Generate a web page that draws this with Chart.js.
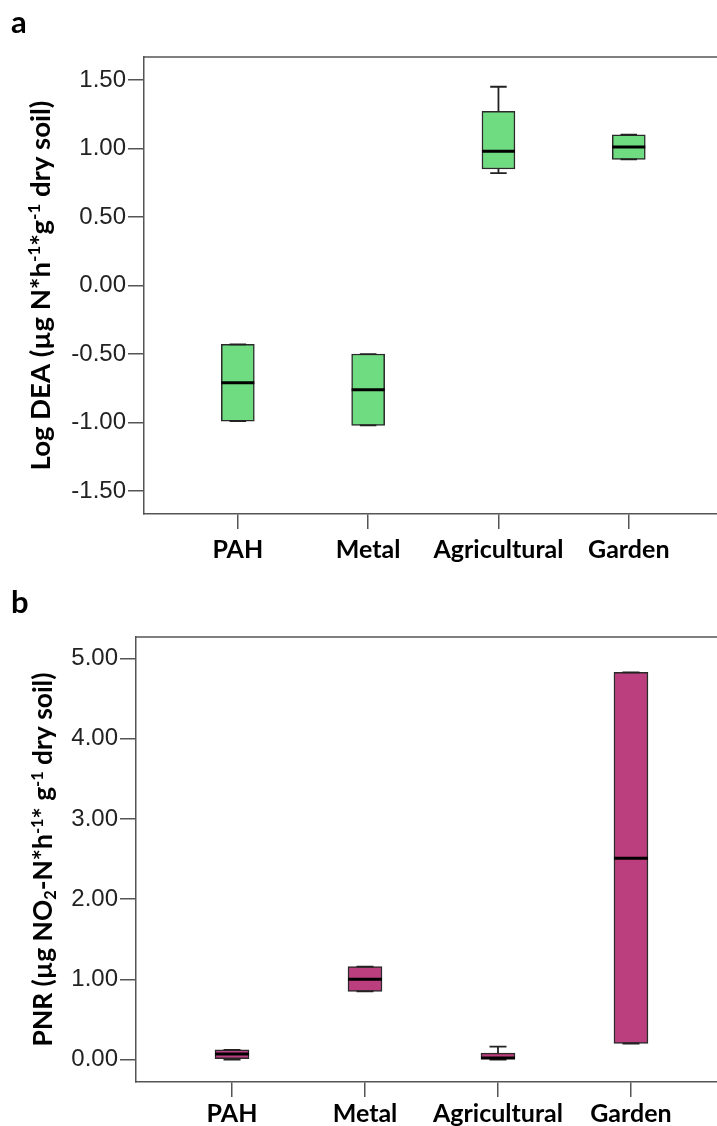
<!DOCTYPE html>
<html>
<head>
<meta charset="utf-8">
<script src="https://cdn.jsdelivr.net/npm/chart.js@4.4.1/dist/chart.umd.min.js"></script>
<style>
  html, body { margin: 0; padding: 0; background: #fff; overflow: hidden; }
  canvas { display: block; }
</style>
</head>
<body>
<canvas id="chartDEA" width="717" height="575"></canvas>
<canvas id="chartPNR" width="717" height="551"></canvas>
<script>
const categories = ["PAH", "Metal", "Agricultural", "Garden"];

// panel a: Log DEA, box plot statistics per category
const deaMin    = [-0.99, -1.02, 0.82, 0.92];
const deaQ1     = [-0.99, -1.02, 0.85, 0.92];
const deaMedian = [-0.71, -0.76, 0.98, 1.01];
const deaQ3     = [-0.43, -0.50, 1.27, 1.10];
const deaMax    = [-0.43, -0.50, 1.45, 1.10];
const deaTicks  = [-1.5, -1.0, -0.5, 0.0, 0.5, 1.0, 1.5];

// panel b: PNR
const pnrMin    = [0.00, 0.85, 0.00, 0.20];
const pnrQ1     = [0.01, 0.85, 0.00, 0.20];
const pnrMedian = [0.07, 1.00, 0.02, 2.51];
const pnrQ3     = [0.12, 1.16, 0.08, 4.83];
const pnrMax    = [0.12, 1.16, 0.16, 4.83];
const pnrTicks  = [0, 1, 2, 3, 4, 5];

const BOLD_FONT = "Lato, 'Open Sans', sans-serif";
const TICK_FONT = "'Liberation Sans', Arial, sans-serif";

function drawVerticalTitle(ctx, parts, baseX, centerY, targetLength) {
    const base = 24;
    const fontFor = (p, size) => `700 ${p.sup || p.sub ? size * 0.62 : size}px ${BOLD_FONT}`;
    const measure = (size) => parts.reduce((sum, p) => {
        ctx.font = fontFor(p, size);
        return sum + ctx.measureText(p.text).width;
    }, 0);
    const size = base * targetLength / measure(base);
    const total = measure(size);

    ctx.save();
    ctx.translate(baseX, centerY);
    ctx.rotate(-Math.PI / 2);
    ctx.textAlign = "left";
    ctx.textBaseline = "alphabetic";
    ctx.fillStyle = "#000";
    let cur = -total / 2;
    parts.forEach((p) => {
        ctx.font = fontFor(p, size);
        const dy = p.sup ? -size * 0.36 : p.sub ? size * 0.16 : 0;
        ctx.fillText(p.text, cur, dy);
        cur += ctx.measureText(p.text).width;
    });
    ctx.restore();
}

const boxPlotExtras = {
    id: "boxPlotExtras",
    afterDatasetsDraw(chart, args, opts) {
        const { ctx } = chart;
        const xs = chart.scales.x;
        const ys = chart.scales.y;
        const half = opts.boxWidth / 2;
        const cap = opts.boxWidth / 4;

        ctx.save();
        opts.median.forEach((med, i) => {
            const cx = xs.getPixelForValue(i + 1);
            const pMin = ys.getPixelForValue(opts.min[i]);
            const pQ1 = ys.getPixelForValue(opts.q1[i]);
            const pQ3 = ys.getPixelForValue(opts.q3[i]);
            const pMax = ys.getPixelForValue(opts.max[i]);
            const pMed = ys.getPixelForValue(med);

            ctx.strokeStyle = "#222";
            ctx.lineWidth = 1.8;
            ctx.beginPath();
            ctx.moveTo(cx, pQ3);
            ctx.lineTo(cx, pMax);
            ctx.moveTo(cx, pQ1);
            ctx.lineTo(cx, pMin);
            ctx.moveTo(cx - cap, pMax);
            ctx.lineTo(cx + cap, pMax);
            ctx.moveTo(cx - cap, pMin);
            ctx.lineTo(cx + cap, pMin);
            ctx.stroke();

            ctx.strokeStyle = "#000";
            ctx.lineWidth = 3;
            ctx.beginPath();
            ctx.moveTo(cx - half, pMed);
            ctx.lineTo(cx + half, pMed);
            ctx.stroke();
        });
        ctx.restore();
    },
    afterDraw(chart, args, opts) {
        const { ctx, chartArea } = chart;

        // top edge of the frame (no right edge, it falls outside the picture)
        ctx.save();
        ctx.strokeStyle = "#555";
        ctx.lineWidth = 1.5;
        ctx.beginPath();
        ctx.moveTo(chartArea.left, chartArea.top);
        ctx.lineTo(chartArea.right, chartArea.top);
        ctx.stroke();

        ctx.fillStyle = "#000";
        ctx.font = `700 31px ${BOLD_FONT}`;
        ctx.textAlign = "left";
        ctx.textBaseline = "alphabetic";
        ctx.fillText(opts.panel, 11, opts.panelBaseline);
        ctx.restore();

        drawVerticalTitle(ctx, opts.title, opts.titleX,
            (chartArea.top + chartArea.bottom) / 2, opts.titleLength);
    },
};

function makeBoxChart(canvasId, cfg) {
    return new Chart(document.getElementById(canvasId), {
        type: "bar",
        data: {
            datasets: [
                {
                    data: categories.map((_, i) => ({ x: i + 1, y: [cfg.q1[i], cfg.q3[i]] })),
                    backgroundColor: cfg.fill,
                    borderColor: "#2a2a2a",
                    borderWidth: 1.5,
                    borderSkipped: false,
                    barThickness: cfg.boxWidth,
                },
            ],
        },
        options: {
            responsive: false,
            animation: false,
            layout: { padding: { top: cfg.top, left: 0, right: 0, bottom: 0 } },
            plugins: {
                legend: { display: false },
                tooltip: { enabled: false },
                boxPlotExtras: {
                    min: cfg.min,
                    q1: cfg.q1,
                    median: cfg.median,
                    q3: cfg.q3,
                    max: cfg.max,
                    boxWidth: cfg.boxWidth,
                    panel: cfg.panel,
                    panelBaseline: cfg.panelBaseline,
                    title: cfg.title,
                    titleX: cfg.titleX,
                    titleLength: cfg.titleLength,
                },
            },
            scales: {
                x: {
                    type: "linear",
                    min: cfg.xMin,
                    max: cfg.xMax,
                    offset: false,
                    afterBuildTicks: (scale) => {
                        scale.ticks = categories.map((_, i) => ({ value: i + 1 }));
                    },
                    afterFit: (scale) => {
                        scale.height = cfg.xAxisHeight;
                    },
                    ticks: {
                        callback: (v) => categories[v - 1] || "",
                        autoSkip: false,
                        maxRotation: 0,
                        padding: cfg.xLabelPadding,
                        color: "#000",
                        font: { family: BOLD_FONT, weight: "700", size: 25 },
                    },
                    grid: { drawOnChartArea: false, offset: false, tickLength: 15, color: "#555", lineWidth: 1.5 },
                    border: { color: "#555", width: 1.5 },
                },
                y: {
                    min: cfg.yMin,
                    max: cfg.yMax,
                    afterBuildTicks: (scale) => {
                        scale.ticks = cfg.ticks.map((v) => ({ value: v }));
                    },
                    afterFit: (scale) => {
                        scale.width = cfg.yAxisWidth;
                    },
                    ticks: {
                        callback: (v) => v.toFixed(2),
                        padding: 2,
                        color: "#222",
                        font: { family: TICK_FONT, size: 24 },
                    },
                    grid: { drawOnChartArea: false, tickLength: 16, color: "#555", lineWidth: 1.5 },
                    border: { color: "#555", width: 1.5 },
                },
            },
        },
        plugins: [boxPlotExtras],
    });
}

document.addEventListener("DOMContentLoaded", () => {
    makeBoxChart("chartDEA", {
        min: deaMin, q1: deaQ1, median: deaMedian, q3: deaQ3, max: deaMax,
        ticks: deaTicks,
        yMin: -1.667, yMax: 1.667,
        xMin: 0.28, xMax: 4.677,
        fill: "#70DC82",
        boxWidth: 33,
        top: 57,
        yAxisWidth: 144,
        xAxisHeight: 61,
        xLabelPadding: 6,
        panel: "a",
        panelBaseline: 33,
        titleX: 50,
        titleLength: 370,
        title: [
            { text: "Log DEA (µg N*h" },
            { text: "-1", sup: true },
            { text: "*g" },
            { text: "-1", sup: true },
            { text: " dry soil)" },
        ],
    });

    makeBoxChart("chartPNR", {
        min: pnrMin, q1: pnrQ1, median: pnrMedian, q3: pnrQ3, max: pnrMax,
        ticks: pnrTicks,
        yMin: -0.28, yMax: 5.27,
        xMin: 0.278, xMax: 4.647,
        fill: "#BB3F7E",
        boxWidth: 34,
        top: 62,
        yAxisWidth: 136,
        xAxisHeight: 44,
        xLabelPadding: 2,
        panel: "b",
        panelBaseline: 38,
        titleX: 52,
        titleLength: 374,
        title: [
            { text: "PNR (µg NO" },
            { text: "2", sub: true },
            { text: "-N*h" },
            { text: "-1", sup: true },
            { text: "* g" },
            { text: "-1", sup: true },
            { text: " dry soil)" },
        ],
    });
});
</script>
</body>
</html>
